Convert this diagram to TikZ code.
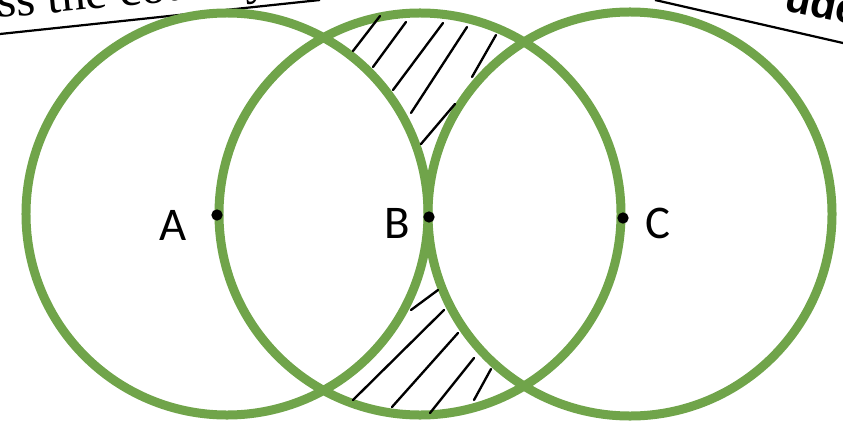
\documentclass[tikz,border=0pt]{standalone}
\usepackage{fontspec}
\setmainfont{Liberation Serif}
\newfontfamily\calfont{Carlito}
\newfontfamily\headfont{Liberation Sans}
\usetikzlibrary{positioning}
\definecolor{ringgreen}{RGB}{112,164,74}

\begin{document}
\begin{tikzpicture}[
  x=0.03cm,y=-0.03cm,
  ring/.style={draw=ringgreen, line width=0.27cm},
  hatch/.style={black, line width=2pt, line cap=round},
  edge/.style={black, line width=1.9pt},
  dot/.style={circle, fill=black, inner sep=0pt, minimum size=0.34cm},
  lbl/.style={font=\calfont\fontsize{40}{44}\selectfont, inner sep=0pt, anchor=base}
]
\useasboundingbox (0,0) rectangle (843,423);
\clip (0,0) rectangle (843,423);
% page edges of the screenshot
\node[font=\fontsize{42}{46}\selectfont, inner sep=0pt, anchor=base west, rotate=5.5] (headL) at (-2,18) {ss the country};
\node[font=\headfont\bfseries\fontsize{36}{40}\selectfont, inner sep=0pt, anchor=base west, rotate=-12] (headR) at (783,10) {ude};
\draw[edge] (0,34) -- (320,0);
\draw[edge] (655,0) -- (843,43);
% circles
\coordinate (cL) at (227,214);
\coordinate (cM) at (420,214);
\coordinate (cR) at (630,214);
\draw[ring] (cL) circle[radius=6.03cm];
\draw[ring] (cM) circle[radius=6.03cm];
\draw[ring] (cR) circle[radius=6.06cm];
% hatching
\foreach \xa/\ya/\xb/\yb in {380/16/353/51, 406/22/373/67, 443/23/393/90, 467/27/411/113, 496/35/472/77, 455/104/421/144,
  438/290/411/310, 444/310/353/400, 458/333/392/407, 474/358/430/413, 491/369/474/400}
  \draw[hatch] (\xa,\ya) -- (\xb,\yb);
% points
\node[dot] (A) at (217,215) {};
\node[dot] (B) at (429,217) {};
\node[dot] (C) at (623,218) {};
\node[lbl] (labA) at (173,240) {A};
\node[lbl] (labB) at (397,238) {B};
\node[lbl] (labC) at (658,238) {C};
\end{tikzpicture}
\end{document}
